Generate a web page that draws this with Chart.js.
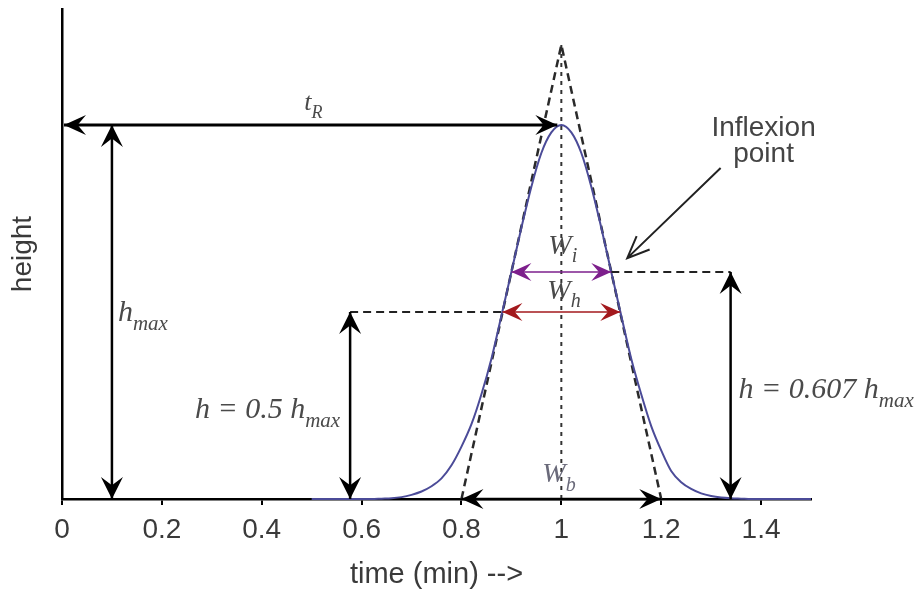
<!DOCTYPE html>
<html>
<head>
<meta charset="utf-8">
<script src="https://cdn.jsdelivr.net/npm/chart.js@4.4.1/dist/chart.umd.min.js"></script>
<style>
html, body { margin: 0; padding: 0; background: #fff; }
#wrap { width: 920px; height: 592px; }
</style>
</head>
<body>
<div id="wrap"><canvas id="peakChart" width="920" height="592"></canvas></div>
<script>
// peak trace
const timeValues = [0.50, 0.52, 0.54, 0.56, 0.58, 0.60, 0.62, 0.64, 0.66, 0.68,
    0.70, 0.72, 0.74, 0.76, 0.78, 0.80, 0.82, 0.84, 0.86, 0.88,
    0.90, 0.92, 0.94, 0.96, 0.98, 1.00, 1.02, 1.04, 1.06, 1.08,
    1.10, 1.12, 1.14, 1.16, 1.18, 1.20, 1.22, 1.24, 1.26, 1.28,
    1.30, 1.32, 1.34, 1.36, 1.38, 1.40, 1.42, 1.44, 1.46, 1.48, 1.50];
const heightValues = [0, 0, 0, 0, 0, 0, 0, 0.001, 0.002, 0.005,
    0.011, 0.02, 0.034, 0.055, 0.09, 0.14, 0.2, 0.28, 0.375, 0.49,
    0.607, 0.725, 0.835, 0.925, 0.98, 1.0, 0.98, 0.925, 0.835, 0.725,
    0.607, 0.49, 0.375, 0.28, 0.195, 0.13, 0.075, 0.045, 0.027, 0.015,
    0.008, 0.004, 0.002, 0.001, 0, 0, 0, 0, 0, 0, 0];

const xTickValues = [0, 0.2, 0.4, 0.6, 0.8, 1, 1.2, 1.4];
const xTickLabels = ['0', '0.2', '0.4', '0.6', '0.8', '1', '1.2', '1.4'];

// tangents through the inflexion points and the centre line
const tangentX = [0.8, 1.0, 1.2];
const tangentY = [0, 1.214, 0];
const centreX = [1, 1];
const centreY = [0, 1.214];

// levels and where the guides/arrows sit
const peakTime = 0.992;
const hmax = 1.0;
const halfLevel = 0.5;
const inflexionLevel = 0.607;
const hmaxArrowX = 0.1;
const halfArrowX = 0.577;
const inflexionArrowX = 1.339;
const widthInflexion = [0.9, 1.1];
const widthHalf = [0.882, 1.118];
const widthBase = [0.8, 1.2];
const pointerFrom = [1.319, 0.885];
const pointerTo = [1.132, 0.644];

function toXY(xs, ys) {
    return xs.map((v, i) => ({ x: v, y: ys[i] }));
}

function arrowHead(ctx, tx, ty, fx, fy, len, half, color) {
    const ang = Math.atan2(ty - fy, tx - fx);
    const c = Math.cos(ang), s = Math.sin(ang);
    ctx.fillStyle = color;
    ctx.beginPath();
    ctx.moveTo(tx, ty);
    ctx.lineTo(tx - len * c - half * s, ty - len * s + half * c);
    ctx.lineTo(tx - len * 0.62 * c, ty - len * 0.62 * s);
    ctx.lineTo(tx - len * c + half * s, ty - len * s - half * c);
    ctx.closePath();
    ctx.fill();
}

function doubleArrow(ctx, x1, y1, x2, y2, color, width, len, half) {
    ctx.strokeStyle = color;
    ctx.lineWidth = width;
    ctx.setLineDash([]);
    ctx.beginPath();
    ctx.moveTo(x1, y1);
    ctx.lineTo(x2, y2);
    ctx.stroke();
    arrowHead(ctx, x1, y1, x2, y2, len, half, color);
    arrowHead(ctx, x2, y2, x1, y1, len, half, color);
}

function subLabel(ctx, main, sub, x, y, size, align, color) {
    const subSize = Math.round(size * 0.7);
    ctx.fillStyle = color;
    ctx.textBaseline = 'alphabetic';
    ctx.textAlign = 'left';
    ctx.font = 'italic ' + size + 'px "Liberation Serif", serif';
    const w1 = ctx.measureText(main).width;
    ctx.font = 'italic ' + subSize + 'px "Liberation Serif", serif';
    const w2 = ctx.measureText(sub).width;
    let sx = x;
    if (align === 'right') sx = x - w1 - w2;
    if (align === 'center') sx = x - (w1 + w2) / 2;
    ctx.font = 'italic ' + size + 'px "Liberation Serif", serif';
    ctx.fillText(main, sx, y);
    ctx.font = 'italic ' + subSize + 'px "Liberation Serif", serif';
    ctx.fillText(sub, sx + w1, y + size * 0.3);
}

const annotate = {
    id: 'annotate',
    afterDatasetsDraw(chart) {
        const ctx = chart.ctx;
        const px = v => chart.scales.x.getPixelForValue(v);
        const py = v => chart.scales.y.getPixelForValue(v);
        ctx.save();

        // dashed guides at half height and at the inflexion level
        ctx.strokeStyle = '#222';
        ctx.lineWidth = 2;
        ctx.setLineDash([8, 5]);
        ctx.beginPath();
        ctx.moveTo(px(halfArrowX), py(halfLevel));
        ctx.lineTo(px(widthHalf[0]), py(halfLevel));
        ctx.moveTo(px(widthInflexion[1]), py(inflexionLevel));
        ctx.lineTo(px(inflexionArrowX), py(inflexionLevel));
        ctx.stroke();

        // retention time
        doubleArrow(ctx, px(0) + 2, py(hmax), px(peakTime), py(hmax), '#000', 3, 22, 10);
        // heights
        doubleArrow(ctx, px(hmaxArrowX), py(0), px(hmaxArrowX), py(hmax), '#000', 2.5, 22, 11);
        doubleArrow(ctx, px(halfArrowX), py(0), px(halfArrowX), py(halfLevel), '#000', 2.5, 22, 11);
        doubleArrow(ctx, px(inflexionArrowX), py(0), px(inflexionArrowX), py(inflexionLevel), '#000', 2.5, 22, 11);
        // widths
        doubleArrow(ctx, px(widthInflexion[0]), py(inflexionLevel), px(widthInflexion[1]), py(inflexionLevel), '#7d1f8c', 1.5, 20, 9);
        doubleArrow(ctx, px(widthHalf[0]), py(halfLevel), px(widthHalf[1]), py(halfLevel), '#a3191d', 1.5, 20, 9);
        doubleArrow(ctx, px(widthBase[0]), py(0), px(widthBase[1]), py(0), '#000', 2.5, 22, 10);

        // pointer to the inflexion point (open head)
        const fx = px(pointerFrom[0]), fy = py(pointerFrom[1]);
        const tx = px(pointerTo[0]), ty = py(pointerTo[1]);
        const ang = Math.atan2(ty - fy, tx - fx);
        ctx.strokeStyle = '#222';
        ctx.lineWidth = 2;
        ctx.beginPath();
        ctx.moveTo(fx, fy);
        ctx.lineTo(tx, ty);
        ctx.moveTo(tx - 24 * Math.cos(ang - 0.4), ty - 24 * Math.sin(ang - 0.4));
        ctx.lineTo(tx, ty);
        ctx.lineTo(tx - 24 * Math.cos(ang + 0.4), ty - 24 * Math.sin(ang + 0.4));
        ctx.stroke();

        // labels
        const grey = '#4a4a4a';
        subLabel(ctx, 't', 'R', px(0.485), py(1.04), 26, 'left', grey);
        subLabel(ctx, 'h', 'max', px(0.112), py(0.476), 30, 'left', grey);
        subLabel(ctx, 'h = 0.5 h', 'max', px(0.557), py(0.217), 30, 'right', grey);
        subLabel(ctx, 'h = 0.607 h', 'max', px(1.355), py(0.27), 30, 'left', grey);
        subLabel(ctx, 'W', 'i', px(0.974), py(0.655), 28, 'left', grey);
        subLabel(ctx, 'W', 'h', px(0.972), py(0.535), 28, 'left', grey);
        subLabel(ctx, 'W', 'b', px(0.962), py(0.045), 28, 'left', '#6a6a7a');

        ctx.fillStyle = '#444';
        ctx.font = '28px "Liberation Sans", Arial, sans-serif';
        ctx.textAlign = 'center';
        ctx.textBaseline = 'alphabetic';
        ctx.fillText('Inflexion', px(1.405), py(0.97));
        ctx.fillText('point', px(1.405), py(0.9));
        ctx.restore();
    }
};

const ctx = document.getElementById('peakChart').getContext('2d');
new Chart(ctx, {
    type: 'line',
    data: {
        datasets: [{
            data: toXY(timeValues, heightValues),
            borderColor: '#4b4b98',
            borderWidth: 2,
            pointRadius: 0,
            cubicInterpolationMode: 'monotone',
            clip: false,
            order: 1
        }, {
            data: toXY(tangentX, tangentY),
            borderColor: '#2a2a2a',
            borderWidth: 2.5,
            borderDash: [8, 5],
            pointRadius: 0,
            tension: 0,
            order: 2
        }, {
            data: toXY(centreX, centreY),
            borderColor: '#333',
            borderWidth: 2,
            borderDash: [4, 5],
            pointRadius: 0,
            tension: 0,
            order: 3
        }]
    },
    options: {
        responsive: false,
        animation: false,
        devicePixelRatio: 1,
        layout: { padding: { left: 0, top: 9, right: 109, bottom: 0 } },
        plugins: {
            legend: { display: false },
            tooltip: { enabled: false }
        },
        scales: {
            x: {
                type: 'linear',
                min: 0,
                max: 1.5,
                afterFit: s => { s.height = 93; },
                afterBuildTicks: s => { s.ticks = xTickValues.map(v => ({ value: v })); },
                grid: { drawOnChartArea: false, drawTicks: true, tickLength: 6, color: '#000', lineWidth: 2 },
                border: { display: true, color: '#000', width: 2.5 },
                ticks: {
                    padding: 8,
                    color: '#3a3a3a',
                    font: { family: '"Liberation Sans", Arial, sans-serif', size: 28 },
                    callback: (v, i) => xTickLabels[i]
                },
                title: {
                    display: true,
                    text: 'time (min) -->',
                    color: '#3a3a3a',
                    font: { family: '"Liberation Sans", Arial, sans-serif', size: 29 },
                    padding: { top: 0, bottom: 0 }
                }
            },
            y: {
                type: 'linear',
                min: 0,
                max: 1.31,
                afterFit: s => { s.width = 62; },
                grid: { drawOnChartArea: false, drawTicks: false },
                border: { display: true, color: '#000', width: 2.5 },
                ticks: { display: false },
                title: {
                    display: true,
                    text: 'height',
                    color: '#3a3a3a',
                    font: { family: '"Liberation Sans", Arial, sans-serif', size: 28 },
                    padding: { top: 6, bottom: 0 }
                }
            }
        }
    },
    plugins: [annotate]
});
</script>
</body>
</html>
